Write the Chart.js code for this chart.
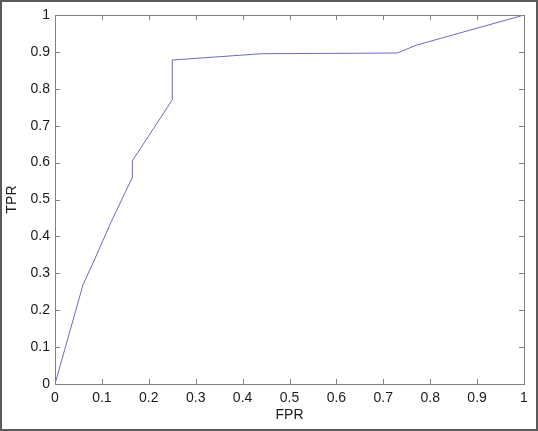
<!DOCTYPE html>
<html>
<head>
<meta charset="utf-8">
<script src="https://cdn.jsdelivr.net/npm/chart.js@4"></script>
<style>
  body { margin: 0; background: #fff; }
  canvas { display: block; }
</style>
</head>
<body>
<canvas id="myChart" width="538" height="431"></canvas>
<script>
let fpr = [0, 0.06, 0.08, 0.12, 0.165, 0.165, 0.25, 0.25, 0.44, 0.73, 0.77, 1]
let tpr = [0, 0.27, 0.325, 0.44, 0.56, 0.605, 0.77, 0.878, 0.895, 0.897, 0.918, 1]
let tickLabels = ['0', '0.1', '0.2', '0.3', '0.4', '0.5', '0.6', '0.7', '0.8', '0.9', '1']

let axisColor = '#808080'
let textColor = '#1a1a1a'
let fontFamily = 'Liberation Sans, Arial, sans-serif'

// box round the plot, inward ticks on every side, grey frame round the picture
let matlabBox = {
    id: 'matlabBox',
    afterDraw: (chart) => {
        let c = chart.ctx
        let a = chart.chartArea
        let xs = chart.scales.x
        let ys = chart.scales.y
        c.save()
        c.strokeStyle = axisColor
        c.lineWidth = 1
        c.strokeRect(a.left + 0.5, a.top + 0.5, a.right - a.left, a.bottom - a.top)
        c.beginPath()
        xs.ticks.forEach((t) => {
            let px = Math.round(xs.getPixelForValue(t.value)) + 0.5
            c.moveTo(px, a.bottom)
            c.lineTo(px, a.bottom - 5)
            c.moveTo(px, a.top)
            c.lineTo(px, a.top + 5)
        })
        ys.ticks.forEach((t) => {
            let py = Math.round(ys.getPixelForValue(t.value)) + 0.5
            c.moveTo(a.left, py)
            c.lineTo(a.left + 5, py)
            c.moveTo(a.right, py)
            c.lineTo(a.right - 5, py)
        })
        c.stroke()
        c.strokeStyle = '#5a5a5a'
        c.lineWidth = 2
        c.strokeRect(1, 1, chart.width - 2, chart.height - 2)
        c.restore()
    },
}

let ctx = document.getElementById('myChart').getContext('2d')

let myChart = new Chart(ctx, {
    type: 'line',
    data: {
        datasets: [
            {
                data: fpr.map((v, i) => ({ x: v, y: tpr[i] })),
                borderColor: '#6a6ac8',
                borderWidth: 1,
                pointRadius: 0,
                tension: 0,
                fill: false,
            },
        ],
    },
    options: {
        responsive: false,
        devicePixelRatio: 1,
        animation: false,
        layout: {
            padding: { top: 15, right: 14, bottom: 0, left: 0 },
        },
        plugins: {
            legend: { display: false },
            tooltip: { enabled: false },
        },
        scales: {
            x: {
                type: 'linear',
                min: 0,
                max: 1,
                afterFit: (scale) => { scale.height = 47 },
                grid: { display: false, drawTicks: false, tickLength: 0 },
                border: { display: false },
                ticks: {
                    stepSize: 0.1,
                    padding: 6,
                    color: textColor,
                    maxRotation: 0,
                    font: { family: fontFamily, size: 14 },
                    callback: (v, i) => tickLabels[i],
                },
                title: {
                    display: true,
                    text: 'FPR',
                    color: textColor,
                    padding: { top: 2, bottom: 7 },
                    font: { family: fontFamily, size: 14 },
                },
            },
            y: {
                min: 0,
                max: 1,
                afterFit: (scale) => { scale.width = 55 },
                grid: { display: false, drawTicks: false, tickLength: 0 },
                border: { display: false },
                ticks: {
                    stepSize: 0.1,
                    padding: 5,
                    color: textColor,
                    font: { family: fontFamily, size: 14 },
                    callback: (v, i) => tickLabels[i],
                },
                title: {
                    display: true,
                    text: 'TPR',
                    color: textColor,
                    padding: { top: 4, bottom: 2 },
                    font: { family: fontFamily, size: 14 },
                },
            },
        },
    },
    plugins: [matlabBox],
})
</script>
</body>
</html>
